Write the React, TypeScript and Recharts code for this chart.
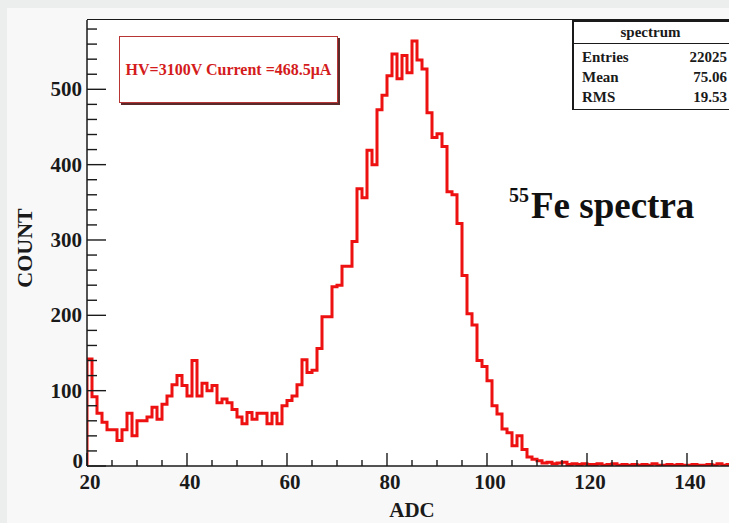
import React from 'react';
import { LineChart, Line, XAxis, YAxis } from 'recharts';

// Histogram: 1-ADC bins starting at ADC 20
const binStart = 20;
const binWidth = 1;
const counts = [
  142, 92, 70, 58, 48, 48, 34, 48, 70, 40, // 20-29
  60, 60, 65, 78, 62, 82, 93, 108, 120, 107, // 30-39
  93, 140, 93, 110, 100, 107, 84, 89, 84, 75, // 40-49
  65, 56, 71, 62, 70, 70, 56, 70, 56, 80, // 50-59
  87, 93, 108, 141, 124, 127, 156, 198, 198, 238, // 60-69
  240, 265, 265, 298, 368, 356, 419, 400, 473, 492, // 70-79
  518, 547, 514, 545, 522, 564, 539, 527, 469, 436, // 80-89
  441, 424, 364, 360, 322, 253, 202, 187, 140, 132, // 90-99
  113, 80, 69, 49, 44, 27, 40, 22, 12, 9, // 100-109
  7, 4, 5, 3, 4, 5, 2, 3, 2, 3, // 110-119
  2, 2, 3, 1, 2, 3, 1, 2, 1, 2, // 120-129
  1, 2, 1, 3, 1, 1, 2, 1, 2, 1, // 130-139
  1, 2, 1, 1, 2, 1, 3, 1, 2, 1, // 140-149
];
const xDomain = [20, 150];
const yDomain = [0, 592];
const xTicks = [20, 25, 30, 35, 40, 45, 50, 55, 60, 65, 70, 75, 80, 85, 90, 95, 100, 105, 110, 115, 120, 125, 130, 135, 140, 145, 150];
const xLabelTicks = [20, 40, 60, 80, 100, 120, 140];
const yTicks = [0, 20, 40, 60, 80, 100, 120, 140, 160, 180, 200, 220, 240, 260, 280, 300, 320, 340, 360, 380, 400, 420, 440, 460, 480, 500, 520, 540, 560, 580];
const yLabelTicks = [0, 100, 200, 300, 400, 500];

const statsTitle = 'spectrum';
const statsRows = [
  ['Entries', '22025'],
  ['Mean', '75.06'],
  ['RMS', '19.53'],
];
const hvText = 'HV=3100V Current =468.5\u03BCA';

const histData = [
  { x: binStart, y: 0 },
  ...counts.map((c, i) => ({ x: binStart + i * binWidth, y: c })),
  { x: binStart + counts.length * binWidth, y: counts[counts.length - 1] },
];

const PLOT_LEFT = 87;
const PLOT_BOTTOM = 466;
const FONT = '"Liberation Serif", "DejaVu Serif", serif';

const YTick = (props: any) => {
  const { y, payload } = props;
  const v = payload.value;
  const major = yLabelTicks.includes(v);
  const len = major ? 19 : 10;
  return (
    <g>
      <line x1={PLOT_LEFT} x2={PLOT_LEFT + len} y1={y} y2={y} stroke="#1a1a1a" strokeWidth={1.4} />
      {major && (
        <text x={v === 0 ? 83 : 82} y={y} dy={v === 0 ? 2 : 7} textAnchor="end" fontFamily={FONT} fontWeight="bold" fontSize={21} fill="#1a1a1a">
          {v}
        </text>
      )}
    </g>
  );
};

const XTick = (props: any) => {
  const { x, payload } = props;
  const v = payload.value;
  const major = v % 20 === 0;
  const len = major ? 13 : 6;
  return (
    <g>
      <line x1={x} x2={x} y1={PLOT_BOTTOM} y2={PLOT_BOTTOM - len} stroke="#1a1a1a" strokeWidth={1.4} />
      {xLabelTicks.includes(v) && (
        <text x={x + 3} y={PLOT_BOTTOM + 23} textAnchor="middle" fontFamily={FONT} fontWeight="bold" fontSize={21} fill="#1a1a1a">
          {v}
        </text>
      )}
    </g>
  );
};

export default function App() {
  return (
    <div
      style={{
        position: 'fixed',
        left: 0,
        top: 0,
        width: 729,
        height: 523,
        overflow: 'hidden',
        background: '#eceeed',
        fontFamily: FONT,
      }}
    >
      <div style={{ position: 'absolute', left: 7, top: 8, width: 740, height: 530, background: '#f8f8f8' }} />
      <div
        style={{
          position: 'absolute',
          left: PLOT_LEFT,
          top: 19,
          width: 660,
          height: 447,
          background: '#ffffff',
          borderTop: '1.5px solid #1a1a1a',
          boxSizing: 'border-box',
        }}
      />
      <div style={{ position: 'absolute', left: 0, top: 0 }}>
        <LineChart width={745} height={523} data={histData} margin={{ top: 20, right: 8, bottom: 17, left: 0 }}>
          <XAxis
            type="number"
            dataKey="x"
            domain={xDomain}
            ticks={xTicks}
            interval={0}
            allowDataOverflow
            height={40}
            tickLine={false}
            axisLine={{ stroke: '#1a1a1a', strokeWidth: 1.5 }}
            tick={XTick}
          />
          <YAxis
            type="number"
            domain={yDomain}
            ticks={yTicks}
            interval={0}
            allowDataOverflow
            width={87}
            tickLine={false}
            axisLine={{ stroke: '#1a1a1a', strokeWidth: 1.5 }}
            tick={YTick}
          />
          <Line
            type="stepAfter"
            dataKey="y"
            stroke="#ee1111"
            strokeWidth={3}
            strokeLinejoin="miter"
            dot={false}
            isAnimationActive={false}
          />
        </LineChart>
      </div>

      {/* Axis titles */}
      <div
        style={{
          position: 'absolute',
          left: 25,
          top: 248,
          transform: 'translate(-50%, -50%) rotate(-90deg)',
          fontWeight: 'bold',
          fontSize: 22,
          color: '#1a1a1a',
          whiteSpace: 'nowrap',
          lineHeight: 1,
        }}
      >
        COUNT
      </div>
      <div
        style={{
          position: 'absolute',
          left: 412,
          top: 510,
          transform: 'translate(-50%, -50%)',
          fontWeight: 'bold',
          fontSize: 21,
          color: '#1a1a1a',
          whiteSpace: 'nowrap',
          lineHeight: 1,
        }}
      >
        ADC
      </div>

      {/* HV box */}
      <div
        style={{
          position: 'absolute',
          left: 119,
          top: 36,
          width: 219,
          height: 67,
          boxSizing: 'border-box',
          border: '1.5px solid #b83535',
          boxShadow: '2px 2px 0 #5a2a2a',
          background: '#ffffff',
          display: 'flex',
          alignItems: 'center',
          justifyContent: 'center',
          color: '#d41c1c',
          fontWeight: 'bold',
          fontSize: 16,
          whiteSpace: 'nowrap',
        }}
      >
        {hvText}
      </div>

      {/* Stats box */}
      <div
        style={{
          position: 'absolute',
          left: 572,
          top: 20,
          width: 162,
          height: 90,
          boxSizing: 'border-box',
          borderTop: '2px solid #1a1a1a',
          borderLeft: '2px solid #1a1a1a',
          borderBottom: '1px solid #1a1a1a',
          borderRight: '1px solid #1a1a1a',
          background: '#ffffff',
          fontWeight: 'bold',
          fontSize: 15,
          color: '#1a1a1a',
          lineHeight: 1,
        }}
      >
        <div style={{ height: 21, borderBottom: '1px solid #1a1a1a', display: 'flex', alignItems: 'center', justifyContent: 'center', paddingRight: 6 }}>
          {statsTitle}
        </div>
        <div style={{ height: 3 }} />
        {statsRows.map(([k, v]) => (
          <div key={k} style={{ height: 20, display: 'flex', alignItems: 'center', justifyContent: 'space-between', paddingLeft: 8, paddingRight: 6 }}>
            <span>{k}</span>
            <span>{v}</span>
          </div>
        ))}
      </div>

      {/* 55Fe label */}
      <div style={{ position: 'absolute', left: 509, top: 185, fontWeight: 'bold', fontSize: 20, lineHeight: 1, color: '#111' }}>55</div>
      <div style={{ position: 'absolute', left: 531, top: 187, fontWeight: 'bold', fontSize: 37, lineHeight: 1, color: '#111', whiteSpace: 'nowrap' }}>
        Fe spectra
      </div>
    </div>
  );
}
